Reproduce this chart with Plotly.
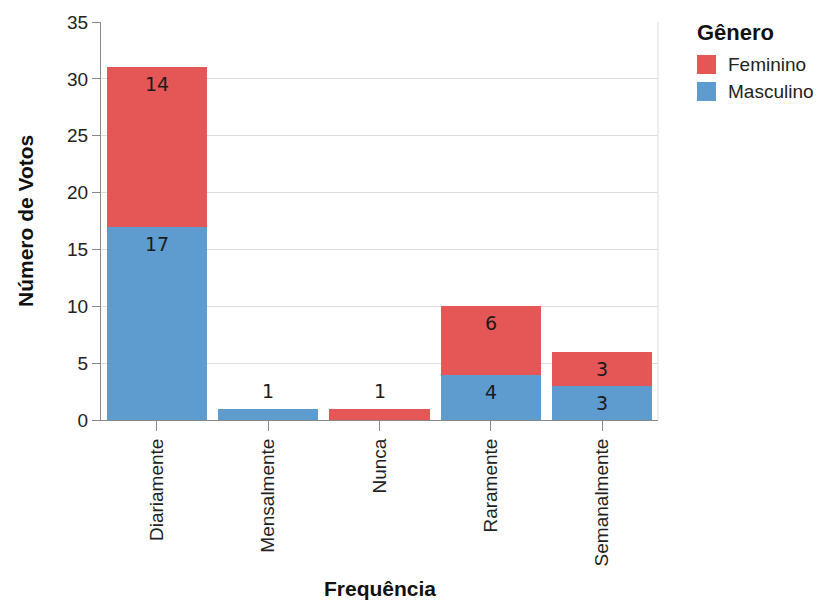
import plotly.graph_objects as go

# Survey answers: how often each group votes, split by gender
categories = ["Diariamente", "Mensalmente", "Nunca", "Raramente", "Semanalmente"]
masculino = [17, 1, 0, 4, 3]
feminino = [14, 0, 1, 6, 3]

series_names = ["Feminino", "Masculino"]
colors = {"Feminino": "#e45756", "Masculino": "#5e9bcf"}

W, H = 818, 601
L, R, T, B = 101, 658, 22, 420  # plot area in pixels

fig = go.Figure()
fig.add_trace(go.Bar(x=categories, y=masculino, name="Masculino",
                     marker=dict(color=colors["Masculino"], line=dict(width=0))))
fig.add_trace(go.Bar(x=categories, y=feminino, name="Feminino",
                     marker=dict(color=colors["Feminino"], line=dict(width=0))))

# value labels sit just under the top of each stacked segment;
# very short segments get their label above the bar instead
annotations = []
for i, cat in enumerate(categories):
    base = 0
    for vals in (masculino, feminino):
        v = vals[i]
        if v > 0:
            top = base + v
            shift = 18 if v < 2 else -17
            annotations.append(dict(
                x=cat, y=top, xref="x", yref="y", text=str(v), showarrow=False,
                yshift=shift, yanchor="middle",
                font=dict(family="DejaVu Sans", size=19, color="#1b1b1b")))
        base += v

# legend drawn as title, swatches and labels to the right of the plot
def px_x(p):
    return (p - L) / (R - L)

def px_y(p):
    return (B - p) / (B - T)

annotations.append(dict(x=px_x(695), y=px_y(32), xref="paper", yref="paper",
                        text="<b>Gênero</b>", showarrow=False, xanchor="left",
                        yanchor="middle",
                        font=dict(family="Liberation Sans", size=22, color="#111")))
shapes = []
for k, name in enumerate(series_names):
    y0 = 55 + k * 27
    shapes.append(dict(type="rect", xref="paper", yref="paper",
                       x0=px_x(697), x1=px_x(716), y0=px_y(y0 + 19), y1=px_y(y0),
                       fillcolor=colors[name], line=dict(width=0)))
    annotations.append(dict(x=px_x(726), y=px_y(y0 + 9.5), xref="paper", yref="paper",
                            text=name, showarrow=False, xanchor="left", yanchor="middle",
                            font=dict(family="Liberation Sans", size=19, color="#222")))

# axis titles
annotations.append(dict(x=0.5, y=px_y(588), xref="paper", yref="paper",
                        text="<b>Frequência</b>", showarrow=False,
                        xanchor="center", yanchor="middle",
                        font=dict(family="Liberation Sans", size=21, color="#111")))
annotations.append(dict(x=px_x(25), y=0.5, xref="paper", yref="paper",
                        text="<b>Número de Votos</b>", showarrow=False, textangle=-90,
                        xanchor="center", yanchor="middle",
                        font=dict(family="Liberation Sans", size=21, color="#111")))

# right edge of the view
shapes.append(dict(type="line", xref="paper", yref="paper", x0=1, x1=1, y0=0, y1=1,
                   line=dict(color="#dddddd", width=1)))

fig.update_layout(
    width=W, height=H,
    margin=dict(l=L, r=W - R, t=T, b=H - B),
    barmode="stack", bargap=0.1,
    showlegend=False,
    paper_bgcolor="white", plot_bgcolor="white",
    font=dict(family="Liberation Sans", size=19, color="#222"),
    annotations=annotations, shapes=shapes,
    xaxis=dict(
        type="category", categoryorder="array", categoryarray=categories,
        range=[-0.5, len(categories) - 0.5], automargin=False,
        tickangle=-90, ticks="outside", ticklen=10, tickcolor="#888",
        showline=True, linecolor="#888", linewidth=1, showgrid=False,
        tickfont=dict(family="Liberation Sans", size=19, color="#222"),
    ),
    yaxis=dict(
        range=[0, 35], dtick=5, ticks="outside", ticklen=8, tickcolor="#888",
        showline=True, linecolor="#888", linewidth=1, automargin=False,
        showgrid=True, gridcolor="#dddddd", gridwidth=1, zeroline=False,
        tickfont=dict(family="Liberation Sans", size=19, color="#222"),
    ),
)

fig.write_html("out.html")
